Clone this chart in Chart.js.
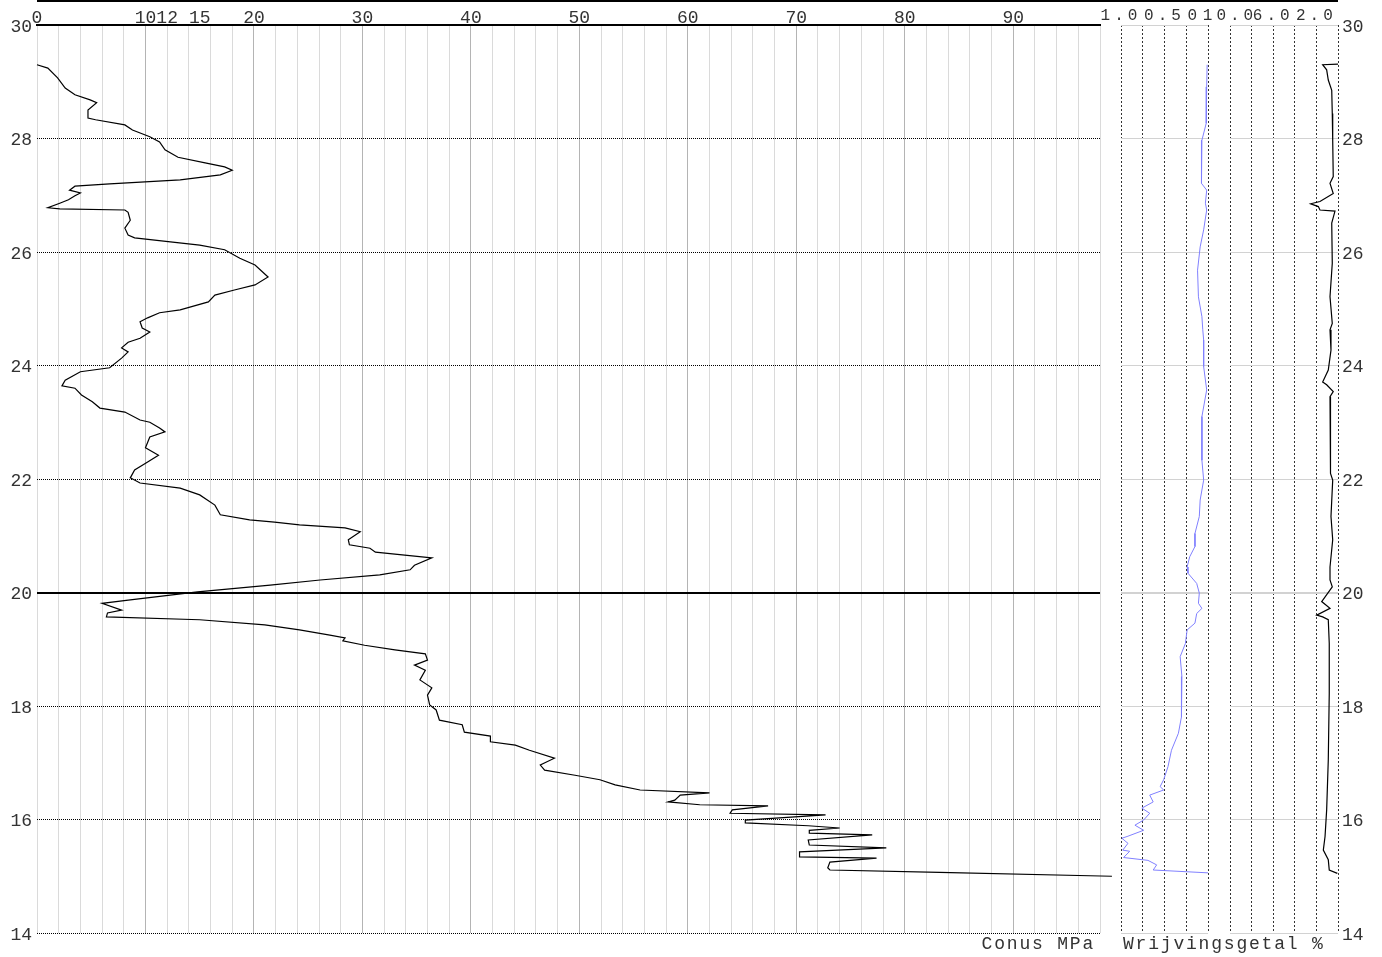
<!DOCTYPE html>
<html>
<head>
<meta charset="utf-8">
<script src="https://cdn.jsdelivr.net/npm/chart.js@4"></script>
<style>
  html, body { margin: 0; padding: 0; background: #fff; }
  #wrap { position: relative; width: 1382px; height: 957px; overflow: hidden; }
  canvas { position: absolute; top: 0; }
  .title { position: absolute; top: 934px; line-height: 20px; font: 18px 'Liberation Mono', 'Courier New', monospace; letter-spacing: 1.8px; color: #333; white-space: nowrap; }
  #topline { position: absolute; left: 37px; top: 0; width: 1301px; border-top: 2px solid #000; }
</style>
</head>
<body>
<div id="wrap">
  <div id="topline"></div>
  <canvas id="conus" width="1120" height="957" style="left:0"></canvas>
  <canvas id="friction" width="125" height="957" style="left:1095px"></canvas>
  <canvas id="ratio" width="187" height="957" style="left:1195px"></canvas>
  <div class="title" style="right:287px">Conus MPa</div>
  <div class="title" style="left:1123px">Wrijvingsgetal %</div>
</div>
<script>
const FONT = "'Liberation Mono', 'Courier New', monospace";

// conus resistance (MPa) against depth
const conusDepth = [29.30, 29.24, 29.07, 28.89, 28.77, 28.68, 28.63, 28.50, 28.36, 28.33, 28.24, 28.15, 28.03, 27.94, 27.80, 27.67, 27.57, 27.50, 27.44, 27.36,
  27.27, 27.20, 27.16, 27.09, 27.04, 26.99, 26.92, 26.86, 26.78, 26.76, 26.74, 26.70, 26.56, 26.42, 26.30, 26.25, 26.18, 26.12, 26.04, 25.89,
  25.77, 25.56, 25.42, 25.33, 25.24, 25.12, 24.98, 24.93, 24.84, 24.77, 24.66, 24.59, 24.48, 24.41, 24.31, 24.24, 24.13, 23.96, 23.89, 23.74,
  23.64, 23.60, 23.48, 23.36, 23.25, 23.18, 23.04, 23.00, 22.90, 22.83, 22.74, 22.55, 22.42, 22.30, 22.16, 22.02, 21.93, 21.84, 21.72, 21.54,
  21.37, 21.28, 21.24, 21.19, 21.14, 21.07, 20.93, 20.84, 20.78, 20.71, 20.66, 20.61, 20.48, 20.40, 20.31, 20.22, 20.13, 20.01, 19.87, 19.81,
  19.69, 19.64, 19.57, 19.52, 19.43, 19.34, 19.25, 19.20, 19.15, 19.07, 18.99, 18.92, 18.81, 18.72, 18.63, 18.46, 18.32, 18.19, 18.02, 17.93,
  17.75, 17.67, 17.54, 17.47, 17.37, 17.31, 17.22, 17.08, 16.96, 16.87, 16.78, 16.70, 16.61, 16.52, 16.47, 16.43, 16.34, 16.31, 16.26, 16.24,
  16.17, 16.11, 16.08, 15.99, 15.94, 15.89, 15.85, 15.81, 15.76, 15.73, 15.64, 15.55, 15.50, 15.43, 15.34, 15.32, 15.25, 15.15, 15.11, 15.07, 15.00];
const conusValue = [0, 1.0, 1.9, 2.6, 3.5, 4.9, 5.5, 4.7, 4.7, 5.4, 8.1, 8.8, 10.4, 11.3, 11.8, 13.0, 15.5, 17.3, 18.0, 16.9,
  13.2, 6.7, 3.5, 3.0, 4.0, 3.5, 2.9, 2.1, 1.0, 2.1, 8.1, 8.4, 8.6, 8.1, 8.4, 9.0, 12.3, 15.0, 17.3, 18.7,
  20.1, 21.3, 20.1, 18.2, 16.4, 15.8, 13.2, 11.3, 10.2, 9.5, 9.7, 10.4, 9.5, 8.4, 7.8, 8.4, 7.8, 6.7, 4.0, 2.6,
  2.3, 3.5, 4.1, 5.1, 5.8, 8.1, 9.5, 10.4, 11.3, 11.8, 10.4, 10.0, 11.2, 10.2, 9.0, 8.6, 9.5, 13.2, 15.0, 16.4,
  16.9, 19.6, 21.9, 24.2, 28.4, 29.8, 28.7, 28.8, 30.7, 31.2, 33.9, 36.4, 34.8, 34.4, 31.6, 26.1, 21.5, 14.8, 8.6, 6.0,
  7.8, 6.5, 6.4, 15.0, 21.0, 24.2, 27.0, 28.4, 28.2, 30.2, 33.0, 35.8, 36.0, 34.8, 35.8, 35.3, 36.4, 36.0, 36.2, 36.8,
  37.1, 39.2, 39.4, 41.8, 41.8, 44.1, 45.4, 47.7, 46.4, 46.8, 49.6, 51.9, 53.3, 55.6, 62.0, 59.3, 58.8, 58.2, 61.1, 67.4,
  64.1, 63.9, 72.7, 65.3, 65.3, 71.1, 74.0, 71.2, 71.2, 77.0, 71.1, 71.2, 78.3, 70.3, 70.3, 77.4, 73.1, 72.9, 73.1, 83.2, 99.1];

// local friction (MPa), plotted reversed
const frictionDepth = [29.30, 28.91, 28.27, 27.97, 27.57, 27.21, 27.09, 26.86, 26.74, 26.39, 26.09, 25.68, 25.21, 24.86, 24.63, 24.45,
  23.98, 23.57, 23.10, 22.33, 21.98, 21.63, 21.34, 21.04, 20.81, 20.63, 20.45, 20.34, 20.16, 19.99, 19.81, 19.72,
  19.63, 19.46, 19.34, 19.10, 18.87, 18.52, 18.11, 17.81, 17.52, 17.22, 16.93, 16.70, 16.58, 16.52, 16.43, 16.31,
  16.20, 16.11, 15.99, 15.90, 15.81, 15.70, 15.67, 15.58, 15.46, 15.44, 15.33, 15.28, 15.20, 15.11, 15.06];
const frictionValue = [0.01, 0.015, 0.02, 0.07, 0.08, 0.07, 0.015, 0.03, 0.015, 0.05, 0.09, 0.12, 0.11, 0.07, 0.06, 0.05,
  0.05, 0.015, 0.07, 0.07, 0.05, 0.09, 0.10, 0.15, 0.15, 0.21, 0.24, 0.23, 0.13, 0.10, 0.11, 0.07,
  0.13, 0.15, 0.24, 0.26, 0.32, 0.30, 0.31, 0.30, 0.34, 0.42, 0.46, 0.51, 0.55, 0.51, 0.67, 0.63,
  0.76, 0.67, 0.74, 0.84, 0.74, 0.93, 0.99, 0.92, 0.98, 0.90, 0.97, 0.69, 0.59, 0.63, 0];

// friction ratio (%), plotted reversed
const ratioDepth = [29.31, 29.30, 29.21, 29.03, 28.85, 28.44, 27.97, 27.33, 27.21, 27.03, 26.89, 26.85, 26.80, 26.74, 26.72, 26.51,
  25.80, 25.21, 24.74, 24.63, 24.27, 23.92, 23.71, 23.66, 23.54, 23.45, 22.81, 22.10, 21.98, 21.34, 20.93, 20.45,
  20.22, 20.10, 19.84, 19.72, 19.60, 19.57, 19.52, 19.10, 18.22, 17.05, 16.17, 15.70, 15.46, 15.29, 15.11, 15.05];
const ratioValue = [0, 1.42, 1.05, 0.90, 0.58, 0.53, 0.49, 0.44, 0.74, 0.44, 1.67, 2.53, 1.82, 1.67, 0.28, 0.58,
  0.53, 0.74, 0.53, 0.74, 0.65, 0.90, 1.42, 1.05, 0.44, 0.74, 0.65, 0.74, 0.49, 0.65, 0.49, 0.74,
  0.74, 0.53, 1.51, 0.74, 1.97, 1.42, 0.90, 0.81, 0.81, 0.90, 1.05, 1.20, 1.36, 0.90, 0.81, 0.06];

const conusLabels = [0, 10, 12, 15, 20, 30, 40, 50, 60, 70, 80, 90];
const frictionLabels = { 1: '1.0', 0.5: '0.5', 0: '0  ' };
const ratioLabels = { 10: '10.0', 6: '6.0', 2: '2.0' };

const points = (depth, value) => depth.map((d, i) => ({ x: value[i], y: d }));
const setTicks = values => scale => { scale.ticks = values.map(v => ({ value: v })); };

const conusGrid = [];
for (let v = 0; v <= 98; v += 2) conusGrid.push(v);
conusGrid.push(15);
conusGrid.sort((a, b) => a - b);

const noPlugins = { legend: { display: false }, tooltip: { enabled: false } };

function line(data, color, width) {
  return { data, borderColor: color, borderWidth: width, pointRadius: 0, showLine: true, clip: false, tension: 0 };
}

// letter-spaced top labels on the right panels
const spacedLabels = {
  id: 'spacedLabels',
  beforeDraw(chart) { chart.ctx.letterSpacing = '4px'; },
  afterDatasetsDraw(chart) { chart.ctx.letterSpacing = '0px'; }
};

new Chart(document.getElementById('conus'), {
  type: 'scatter',
  data: { datasets: [line(points(conusDepth, conusValue), '#000', 1.2)] },
  options: {
    responsive: false, animation: false,
    layout: { padding: { left: 0, right: 20, top: 0, bottom: 24 } },
    plugins: noPlugins,
    scales: {
      x: {
        type: 'linear', position: 'top', min: 0, max: 98,
        afterBuildTicks: setTicks(conusGrid),
        afterFit: s => { s.height = 25; },
        ticks: {
          autoSkip: false, maxRotation: 0, minRotation: 0, padding: -4, color: '#333',
          font: { family: FONT, size: 18 },
          callback: v => conusLabels.includes(v) ? String(v) : ''
        },
        grid: {
          drawTicks: false,
          color: c => c.tick.value === 15 ? 'rgba(0,0,0,0)' : (c.tick.value % 10 === 0 && c.tick.value > 0 ? '#b4b4b4' : '#dadada')
        },
        border: { display: true, color: '#000', width: 2 }
      },
      y: {
        type: 'linear', position: 'left', min: 14, max: 30,
        afterFit: s => { s.width = 37; },
        ticks: { stepSize: 2, padding: 5, labelOffset: 2, color: '#333', font: { family: FONT, size: 18 } },
        grid: {
          drawTicks: false,
          color: c => (c.tick.value === 30 || c.tick.value === 20) ? 'rgba(0,0,0,0)' : '#000'
        },
        border: { display: false, dash: [1, 1] }
      },
      yRef: {
        type: 'linear', position: 'left', min: 14, max: 30,
        afterBuildTicks: setTicks([20]),
        afterFit: s => { s.width = 0; },
        ticks: { display: false },
        grid: { drawTicks: false, color: '#000', lineWidth: 2 },
        border: { display: false }
      }
    }
  }
});

new Chart(document.getElementById('friction'), {
  type: 'scatter',
  data: { datasets: [line(points(frictionDepth, frictionValue), '#8080ff', 1)] },
  plugins: [spacedLabels],
  options: {
    responsive: false, animation: false,
    layout: { padding: { left: 26, right: 12, top: 0, bottom: 24 } },
    plugins: noPlugins,
    scales: {
      x: {
        type: 'linear', position: 'top', min: 0, max: 1, reverse: true,
        afterBuildTicks: setTicks([0, 0.25, 0.5, 0.75, 1]),
        afterFit: s => { s.height = 25; },
        ticks: {
          autoSkip: false, maxRotation: 0, minRotation: 0, padding: 0, color: '#333',
          font: { family: FONT, size: 16 },
          callback: v => frictionLabels[v] || ''
        },
        grid: { drawTicks: false, color: '#333' },
        border: { display: false, dash: [2, 2] }
      },
      y: {
        type: 'linear', position: 'left', min: 14, max: 30,
        afterFit: s => { s.width = 0; },
        ticks: { display: false, stepSize: 2 },
        grid: { drawTicks: false, color: '#d2d2d2', lineWidth: c => c.tick.value === 20 ? 2 : 1 },
        border: { display: false }
      }
    }
  }
});

new Chart(document.getElementById('ratio'), {
  type: 'scatter',
  data: { datasets: [line(points(ratioDepth, ratioValue), '#000', 1.2)] },
  plugins: [spacedLabels],
  options: {
    responsive: false, animation: false,
    layout: { padding: { left: 35, right: 0, top: 0, bottom: 24 } },
    plugins: noPlugins,
    scales: {
      x: {
        type: 'linear', position: 'top', min: 0, max: 10, reverse: true,
        afterBuildTicks: setTicks([0, 2, 4, 6, 8, 10]),
        afterFit: s => { s.height = 25; },
        ticks: {
          autoSkip: false, maxRotation: 0, minRotation: 0, padding: 0, color: '#333',
          font: { family: FONT, size: 16 },
          callback: v => ratioLabels[v] || ''
        },
        grid: { drawTicks: false, color: '#333' },
        border: { display: false, dash: [2, 2] }
      },
      y: {
        type: 'linear', position: 'right', min: 14, max: 30,
        afterFit: s => { s.width = 44; },
        ticks: { stepSize: 2, padding: 4, labelOffset: 2, z: 1, color: '#333', font: { family: FONT, size: 18 } },
        grid: { drawTicks: false, color: '#d2d2d2', lineWidth: c => c.tick.value === 20 ? 2 : 1 },
        border: { display: false }
      }
    }
  }
});
</script>
</body>
</html>
